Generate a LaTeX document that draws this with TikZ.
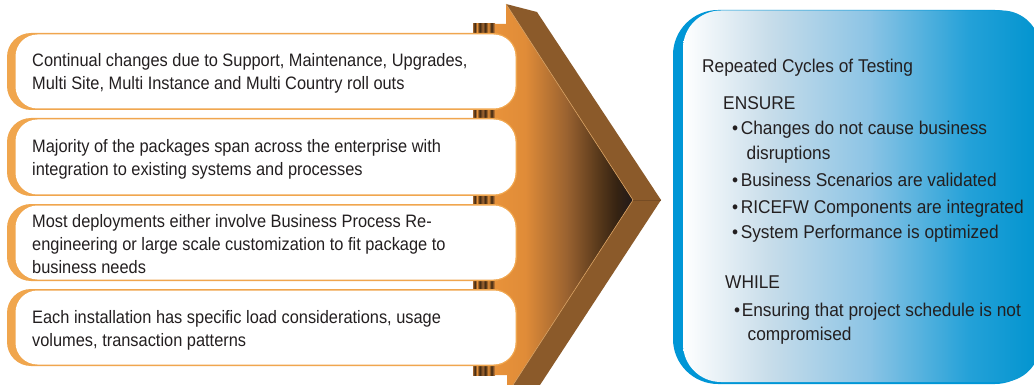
\documentclass[tikz,border=0pt]{standalone}
\usepackage{fontspec}
\newfontfamily\lfont{Liberation Sans}[FakeStretch=0.91]
\newfontfamily\rfont{Liberation Sans}[FakeStretch=0.936]
\definecolor{boxor}{HTML}{F0A64E}
\definecolor{bodyor}{HTML}{E8923A}
\definecolor{bodyorb}{HTML}{E08C38}
\definecolor{cA}{HTML}{9A6230}
\definecolor{cB}{HTML}{55371A}
\definecolor{cC}{HTML}{362312}
\definecolor{cD}{HTML}{221A1A}
\definecolor{band}{HTML}{8B5A2A}
\definecolor{bandline}{HTML}{D8A060}
\definecolor{rdark}{HTML}{3A2510}
\definecolor{rbrown}{HTML}{A06530}
\definecolor{txt}{HTML}{231F20}
\definecolor{pblue}{HTML}{0096D6}
\definecolor{pA}{HTML}{C8DDEA}
\definecolor{pB}{HTML}{8CC4E5}
\definecolor{pC}{HTML}{24A1D8}
\definecolor{pD}{HTML}{0094CF}
\pgfdeclarehorizontalshading{bodyshade}{100bp}{color(0bp)=(bodyor); color(25bp)=(bodyor); color(36bp)=(bodyorb); color(51bp)=(cA); color(63bp)=(cB); color(69bp)=(cC); color(75bp)=(cD); color(100bp)=(cD)}
\pgfdeclarehorizontalshading{panelshade}{100bp}{color(0bp)=(white); color(25bp)=(white); color(37bp)=(pA); color(51bp)=(pB); color(65bp)=(pC); color(75bp)=(pD); color(100bp)=(pD)}
\pgfdeclarehorizontalshading{ridgeshade}{100bp}{color(0bp)=(rbrown); color(25bp)=(rbrown); color(29bp)=(rdark); color(34bp)=(bodyor); color(40bp)=(rdark); color(47bp)=(rbrown); color(53bp)=(rdark); color(60bp)=(bodyor); color(67bp)=(rdark); color(72bp)=(rbrown); color(75bp)=(bodyor); color(100bp)=(bodyor)}
\begin{document}
\begin{tikzpicture}[x=1pt,y=-1pt,
  lt/.style={anchor=base west,inner sep=0pt,text=txt,font=\lfont\fontsize{18}{23}\selectfont},
  rt/.style={anchor=base west,inner sep=0pt,text=txt,font=\rfont\fontsize{18.5}{25}\selectfont}]
\useasboundingbox (0,0) rectangle (1034,385);
\fill[white] (0,0) rectangle (1034,385);
% arrow body
\shade[shading=bodyshade] (495,24) -- (506,24) -- (506,4) -- (633,200) -- (513,385) -- (507,385) -- (507,375) -- (495,375) -- cycle;
\fill[band] (506,4) -- (537,12) -- (661,200) -- (633,200) -- cycle;
\fill[band] (633,200) -- (661,200) -- (540,385) -- (513,385) -- cycle;
\draw[bandline,line width=0.6pt] (506,4) -- (633,200) -- (513,385);
\draw[band!85!black,line width=0.5pt] (633,200) -- (661,200);
% ridges
\foreach \ya/\yb in {24/33,110/118,196/204,281/289,366/375}
  \shade[shading=ridgeshade] (473,\ya) rectangle (495,\yb);
% boxes
\foreach \t/\b in {33/110,118/196,204/281,289/366} {
  \fill[boxor,rounded corners=24pt] (7,\t) rectangle (517,\b);
  \fill[white,rounded corners=22pt] (15.5,\t+1.5) rectangle (515.5,\b-1.5);
}
\node[lt] (t1) at (32,67) {\parbox[t]{480pt}{\raggedright Continual changes due to Support, Maintenance, Upgrades,\\Multi Site, Multi Instance and Multi Country roll outs}};
\node[lt] (t2) at (32,153) {\parbox[t]{480pt}{\raggedright Majority of the packages span across the enterprise with\\integration to existing systems and processes}};
\node[lt] (t3) at (32,227) {\parbox[t]{480pt}{\raggedright Most deployments either involve Business Process Re-\\engineering or large scale customization to fit package to\\business needs}};
\node[lt] (t4) at (32,323) {\parbox[t]{480pt}{\raggedright Each installation has specific load considerations, usage\\volumes, transaction patterns}};
% right panel
\fill[pblue,rounded corners=45pt] (673,10) rectangle (1040,384);
\shade[shading=panelshade,rounded corners=38pt] (683,10.5) rectangle (1040,382);
\node[rt] (title) at (702,73) {Repeated Cycles of Testing};
\node[rt] (ensure) at (723,110) {ENSURE};
\node[rt] (b1) at (732,135) {\parbox[t]{300pt}{•\hspace{2.5pt}Changes do not cause business\\\hspace*{14.5pt}disruptions}};
\node[rt] (b2) at (732,186) {•\hspace{2.5pt}Business Scenarios are validated};
\node[rt] (b3) at (732,213) {•\hspace{2.5pt}RICEFW Components are integrated};
\node[rt] (b4) at (732,238) {•\hspace{2.5pt}System Performance is optimized};
\node[rt] (while) at (725,288) {WHILE};
\node[rt] (b5) at (734,316) {\parbox[t]{300pt}{\baselineskip=24pt •\hspace{1.5pt}Ensuring that project schedule is not\\\hspace*{13.5pt}compromised}};
\end{tikzpicture}
\end{document}
